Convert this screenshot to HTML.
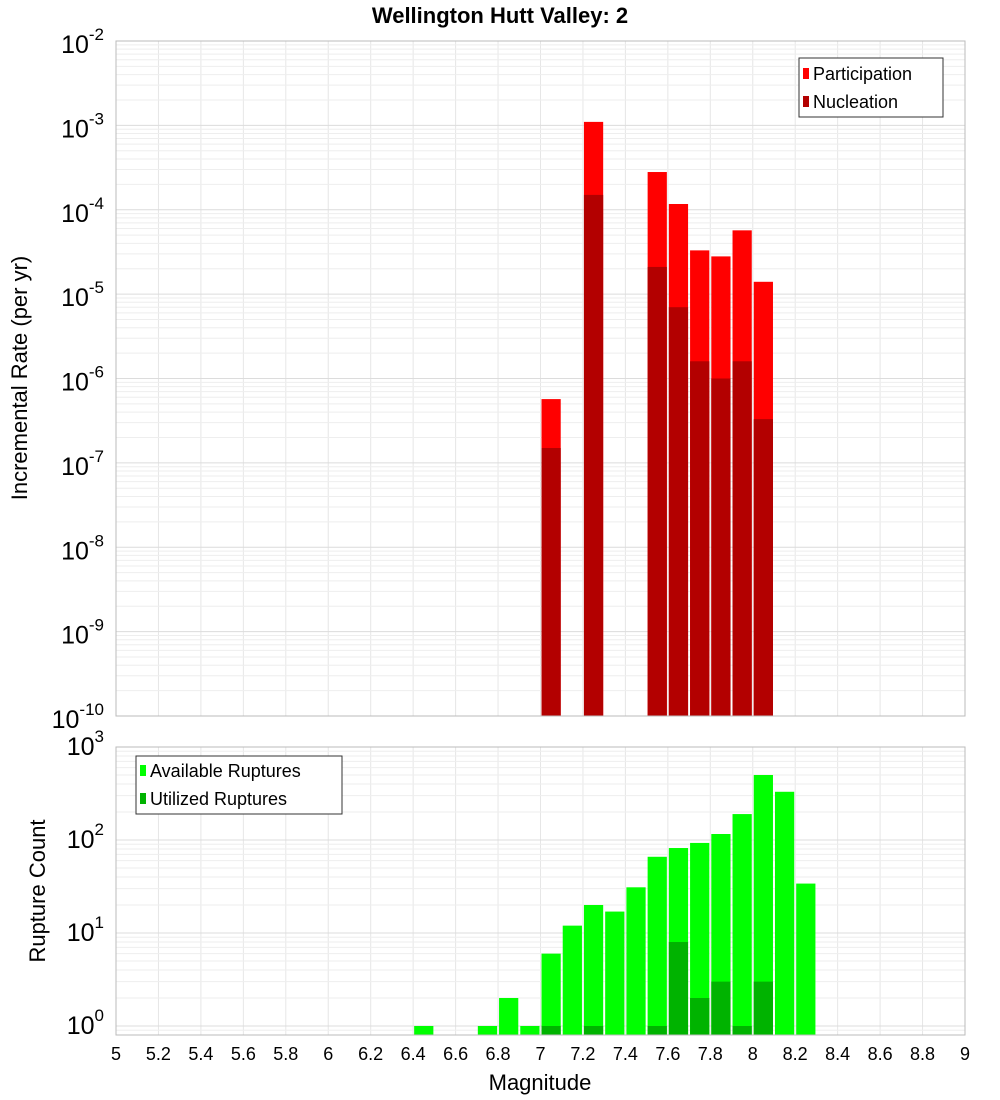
<!DOCTYPE html>
<html><head><meta charset="utf-8"><style>
body{margin:0;background:#fff;}
svg{display:block;font-family:"Liberation Sans","DejaVu Sans",sans-serif;}
</style></head><body>
<svg id="c" width="1000" height="1100"></svg>
<script>
const topMags=[7.05,7.25,7.55,7.65,7.75,7.85,7.95,8.05];
const participation=[5.7e-7,1.1e-3,2.8e-4,1.17e-4,3.3e-5,2.8e-5,5.7e-5,1.4e-5];
const nucleation=[1.5e-7,1.5e-4,2.1e-5,7e-6,1.6e-6,1.0e-6,1.6e-6,3.3e-7];
const botMags=[6.45,6.75,6.85,6.95,7.05,7.15,7.25,7.35,7.45,7.55,7.65,7.75,7.85,7.95,8.05,8.15,8.25];
const available=[1,1,2,1,6,12,20,17,31,66,82,93,116,190,500,330,34];
const utilMags=[7.05,7.25,7.55,7.65,7.75,7.85,7.95,8.05];
const utilized=[1,1,1,8,2,3,1,3];
const xTicks=[5,5.2,5.4,5.6,5.8,6,6.2,6.4,6.6,6.8,7,7.2,7.4,7.6,7.8,8,8.2,8.4,8.6,8.8,9];
const topExps=[-2,-3,-4,-5,-6,-7,-8,-9,-10];
const botExps=[3,2,1,0];

const NS="http://www.w3.org/2000/svg";
const svg=document.getElementById('c');
function mk(t,a,p){const e=document.createElementNS(NS,t);for(const k in a)e.setAttribute(k,a[k]);(p||svg).appendChild(e);return e;}
const L=116,R=965;
const X=m=>L+(m-5)*(R-L)/4;
const T0=41,T1=716;
const YT=v=>T0+(-2-Math.log10(v))*(T1-T0)/8;
const B0=747,B1=1035,BD=93,B0v=1026;
const YB=v=>B0v-Math.log10(v)*BD;

// backgrounds/grids
function grid(y0,y1,yf,emin,emax){
  const g=mk('g',{});
  
  
  for(let m=5.2;m<9;m+=0.2){mk('line',{x1:X(m),x2:X(m),y1:y0,y2:y1,stroke:'#e6e6e6','stroke-width':1},g);}
  for(let e=emin;e<emax;e++)for(let k=1;k<10;k++){const y=yf(k*Math.pow(10,e));if(y>y0&&y<y1)mk('line',{x1:L,x2:R,y1:y,y2:y,stroke:k==1?'#dcdcdc':'#eeeeee','stroke-width':1},g);}
}
grid(T0,T1,YT,-10,-1);
grid(B0,B1,YB,-1,3);

// top bars
const tb=mk('g',{});


topMags.forEach((m,i)=>{
  const x=X(m-0.05)+1,w=X(0.1+5)-L-2;
  const r=mk('rect',{x:x,y:YT(participation[i]),width:w,height:T1-YT(participation[i]),fill:'#ff0000'},tb);
  
  
  const n=mk('rect',{x:x,y:YT(nucleation[i]),width:w,height:T1-YT(nucleation[i]),fill:'#b30000'},tb);
  
  
});
// bottom bars
const bb=mk('g',{});


botMags.forEach((m,i)=>{
  const x=X(m-0.05)+1,w=X(5.1)-L-2;
  const r=mk('rect',{x:x,y:YB(available[i]),width:w,height:B1-YB(available[i]),fill:'#00ff00'},bb);
  
  
});
utilMags.forEach((m,i)=>{
  const x=X(m-0.05)+1,w=X(5.1)-L-2;
  const r=mk('rect',{x:x,y:YB(utilized[i]),width:w,height:B1-YB(utilized[i]),fill:'#00b300'},bb);
  
  
});
// frames
mk('rect',{x:L,y:T0,width:R-L,height:T1-T0,fill:'none',stroke:'#bbb'});
mk('rect',{x:L,y:B0,width:R-L,height:B1-B0,fill:'none',stroke:'#bbb'});

// y tick labels
topExps.forEach(e=>{
  const y=YT(Math.pow(10,e));
  const t=mk('text',{x:104,y:y+12,'text-anchor':'end','font-size':25});
  
  
  t.appendChild(document.createTextNode('10'));
  const s=mk('tspan',{dy:-13,'font-size':17},t);s.textContent=String(e);
});
botExps.forEach(e=>{
  const y=YB(Math.pow(10,e));
  const t=mk('text',{x:104,y:y+8,'text-anchor':'end','font-size':25});
  
  
  t.appendChild(document.createTextNode('10'));
  const s=mk('tspan',{dy:-13,'font-size':17},t);s.textContent=String(e);
});
xTicks.forEach(m=>{
  const t=mk('text',{x:X(m),y:1060,'text-anchor':'middle','font-size':18});
  
  
  t.textContent=String(m);
});
</script>
<svg style="position:absolute;left:0;top:0" width="1000" height="1100">
<text x="500" y="23" text-anchor="middle" font-size="22" font-weight="bold">Wellington Hutt Valley: 2</text>
<text transform="translate(27,378) rotate(-90)" text-anchor="middle" font-size="22">Incremental Rate (per yr)</text>
<text transform="translate(45,891) rotate(-90)" text-anchor="middle" font-size="22">Rupture Count</text>
<text x="540" y="1090" text-anchor="middle" font-size="22">Magnitude</text>
<g>
<rect x="799" y="58" width="144" height="59" fill="#fff" stroke="#333"/>
<rect x="803" y="68" width="6" height="11" fill="#ff0000"/>
<text x="813" y="80" font-size="18">Participation</text>
<rect x="803" y="96" width="6" height="11" fill="#b30000"/>
<text x="813" y="108" font-size="18">Nucleation</text>
</g>
<g>
<rect x="136" y="756" width="206" height="58" fill="#fff" stroke="#333"/>
<rect x="140" y="765" width="6" height="11" fill="#00ff00"/>
<text x="150" y="777" font-size="18">Available Ruptures</text>
<rect x="140" y="793" width="6" height="11" fill="#00b300"/>
<text x="150" y="805" font-size="18">Utilized Ruptures</text>
</g>
</svg>
</body></html>
